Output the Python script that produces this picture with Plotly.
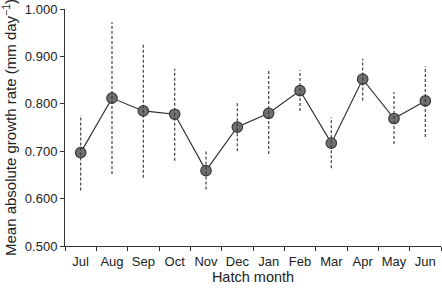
import plotly.graph_objects as go

months = ["Jul", "Aug", "Sep", "Oct", "Nov", "Dec", "Jan", "Feb", "Mar", "Apr", "May", "Jun"]
mean_rate = [0.697, 0.812, 0.785, 0.778, 0.659, 0.751, 0.780, 0.828, 0.717, 0.852, 0.769, 0.806]
upper = [0.776, 0.972, 0.926, 0.874, 0.700, 0.801, 0.869, 0.871, 0.771, 0.895, 0.825, 0.879]
lower = [0.617, 0.652, 0.644, 0.680, 0.619, 0.700, 0.694, 0.785, 0.664, 0.807, 0.715, 0.730]
y_ticks = [0.5, 0.6, 0.7, 0.8, 0.9, 1.0]

ex, ey = [], []
for m, lo, hi in zip(months, lower, upper):
    ex += [m, m, None]
    ey += [lo, hi, None]

fig = go.Figure()
fig.add_trace(go.Scatter(x=months, y=mean_rate, mode="lines+markers",
                         line=dict(color="#2a2a2a", width=1.1),
                         marker=dict(size=10.5, color="#707070",
                                     line=dict(color="#3a3a3a", width=1.2)),
                         showlegend=False))
fig.add_trace(go.Scatter(x=ex, y=ey, mode="lines",
                         line=dict(color="#333333", width=1.3, dash="3px,2px"),
                         opacity=0.85, hoverinfo="skip", showlegend=False))

font = "Liberation Sans, Arial, sans-serif"
fig.update_layout(
    width=442, height=290,
    margin=dict(l=65, r=1, t=9, b=44),
    plot_bgcolor="white", paper_bgcolor="white",
    font=dict(family=font, size=13, color="#222"),
    xaxis=dict(type="category", categoryorder="array", categoryarray=months,
               range=[-0.5, 11.5], showgrid=False, zeroline=False,
               showline=True, linecolor="#333", linewidth=1,
               ticks="outside", tickson="boundaries", ticklen=4, tickcolor="#333",
               tickfont=dict(size=13), tickangle=0, automargin=False,
               ticklabelstandoff=3,
               title=dict(text="Hatch month", font=dict(size=14.5), standoff=0)),
    yaxis=dict(range=[0.5, 1.0], tickvals=y_ticks, tickformat=".3f",
               showgrid=False, zeroline=False,
               showline=True, linecolor="#333", linewidth=1,
               ticks="outside", ticklen=4, tickcolor="#333",
               tickfont=dict(size=13), automargin=False,
               title=dict(text="Mean absolute growth rate (mm day<sup>−1</sup>)",
                          font=dict(size=15), standoff=4)),
)
fig.write_html("out.html", config={"displayModeBar": False},
               post_script="document.body.style.margin='0';document.body.style.overflow='hidden';")
